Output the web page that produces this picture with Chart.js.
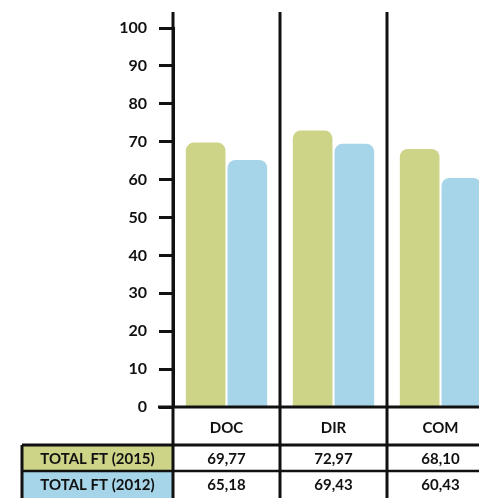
<!DOCTYPE html>
<html>
<head>
<meta charset="utf-8">
<script src="https://cdn.jsdelivr.net/npm/chart.js@4"></script>
<style>
  html, body { margin: 0; padding: 0; background: #fff; overflow: hidden; }
  #wrap { position: relative; width: 500px; height: 498px; }
</style>
</head>
<body>
<div id="wrap"><canvas id="chart" width="500" height="498"></canvas></div>
<script>
// chart data
const categories = ['DOC', 'DIR', 'COM'];
const seriesNames = ['TOTAL FT (2015)', 'TOTAL FT (2012)'];
const values2015 = [69.77, 72.97, 68.10];
const values2012 = [65.18, 69.43, 60.43];
const yTicks = [0, 10, 20, 30, 40, 50, 60, 70, 80, 90, 100];

const GREEN = '#cdd387';
const BLUE = '#a6d4e8';
const INK = '#111111';
const FONT = 'Lato, "Open Sans", sans-serif';

const fmt = v => v.toFixed(2).replace('.', ',');

// draws the grid lines and the data table under the bars
const tablePlugin = {
  id: 'tablePlugin',
  afterDraw(chart) {
    const ctx = chart.ctx;
    const area = chart.chartArea;
    const x = chart.scales.x;
    const y = chart.scales.y;
    const W = chart.width;
    const base = y.getPixelForValue(0);
    const row1 = base + 38, row2 = row1 + 26, row3 = chart.height;
    const half = (x.getPixelForValue(1) - x.getPixelForValue(0)) / 2;
    const legendLeft = 22;

    ctx.save();
    // legend cells
    ctx.fillStyle = GREEN;
    ctx.fillRect(legendLeft, row1, area.left - legendLeft, row2 - row1);
    ctx.fillStyle = BLUE;
    ctx.fillRect(legendLeft, row2, area.left - legendLeft, row3 - row2);

    ctx.strokeStyle = INK;
    ctx.lineCap = 'butt';
    const line = (x1, y1, x2, y2, w) => {
      ctx.lineWidth = w;
      ctx.beginPath();
      ctx.moveTo(x1, y1);
      ctx.lineTo(x2, y2);
      ctx.stroke();
    };

    // baseline and row lines
    line(area.left - 15, base, W, base, 3);
    line(legendLeft, row1, W, row1, 3);
    line(legendLeft, row2, W, row2, 2.5);

    // vertical lines
    line(area.left, 12, area.left, row3, 3);
    for (let i = 0; i < categories.length; i++) {
      const xr = x.getPixelForValue(i) + half;
      line(xr, 12, xr, row3, 3);
    }
    line(legendLeft, row1, legendLeft, row3, 3);

    // texts
    ctx.fillStyle = INK;
    ctx.textAlign = 'center';
    ctx.textBaseline = 'middle';
    ctx.font = 'bold 15px ' + FONT;
    categories.forEach((c, i) => {
      const cx = x.getPixelForValue(i);
      ctx.fillText(c, cx, (base + row1) / 2 + 2);
      ctx.fillText(fmt(values2015[i]), cx, (row1 + row2) / 2 + 1);
      ctx.fillText(fmt(values2012[i]), cx, (row2 + row3) / 2 + 1);
    });
    ctx.font = 'bold 15px ' + FONT;
    const lx = (legendLeft + area.left) / 2;
    ctx.fillText(seriesNames[0], lx, (row1 + row2) / 2 + 1);
    ctx.fillText(seriesNames[1], lx, (row2 + row3) / 2 + 1);
    ctx.restore();
  }
};

new Chart(document.getElementById('chart'), {
  type: 'bar',
  data: {
    labels: categories,
    datasets: [
      { label: seriesNames[0], data: values2015, backgroundColor: GREEN,
        borderRadius: { topLeft: 8, topRight: 8 }, borderSkipped: 'bottom' },
      { label: seriesNames[1], data: values2012, backgroundColor: BLUE,
        borderRadius: { topLeft: 8, topRight: 8 }, borderSkipped: 'bottom' }
    ]
  },
  options: {
    responsive: false,
    animation: false,
    layout: { padding: { top: 28, bottom: 91, left: 0, right: 6 } },
    plugins: { legend: { display: false }, tooltip: { enabled: false } },
    datasets: { bar: { categoryPercentage: 0.78, barPercentage: 0.95 } },
    scales: {
      x: { display: false },
      y: {
        min: 0,
        max: 100,
        afterBuildTicks: s => { s.ticks = yTicks.map(v => ({ value: v })); },
        afterFit: s => { s.width = 173; },
        border: { display: true, color: INK, width: 3 },
        grid: { drawOnChartArea: false, drawTicks: true, tickLength: 14, tickWidth: 3, tickColor: INK },
        ticks: { color: INK, padding: 12, font: { family: FONT, size: 16, weight: 'bold' } }
      }
    }
  },
  plugins: [tablePlugin]
});
</script>
</body>
</html>
